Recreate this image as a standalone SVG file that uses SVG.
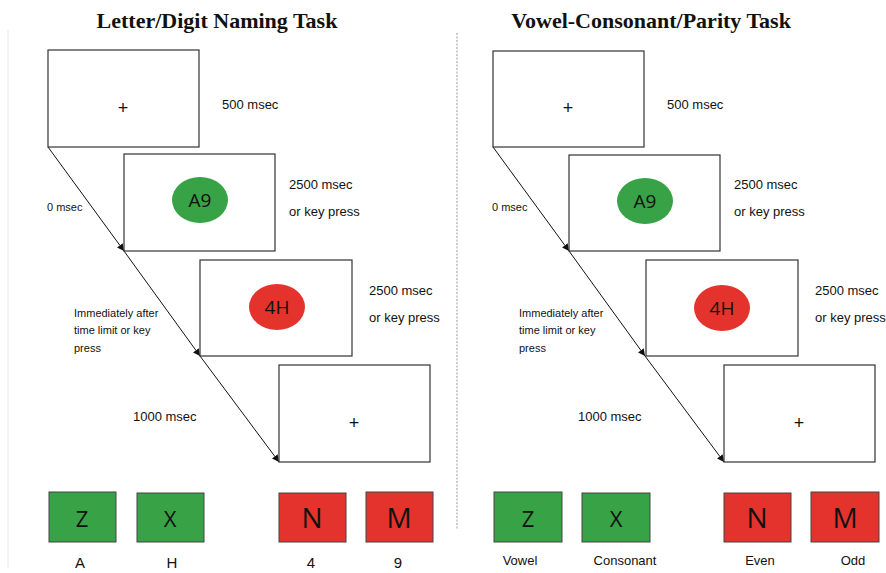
<svg xmlns="http://www.w3.org/2000/svg" width="886" height="573" viewBox="0 0 886 573">
<defs>
<marker id="ah" viewBox="0 0 10 10" refX="10" refY="5" markerWidth="7" markerHeight="7" orient="auto" markerUnits="userSpaceOnUse">
<path d="M0,0 L10,5 L0,10 z" fill="#111"/>
</marker>
<style>
.title{font-family:"Liberation Serif","Times New Roman",serif;font-weight:bold;font-size:22px;fill:#111;text-anchor:middle}
.t{font-family:"Liberation Sans",Arial,sans-serif;font-size:13px;fill:#111}
.s{font-family:"Liberation Sans",Arial,sans-serif;font-size:11px;fill:#111}
.scr{fill:#fff;stroke:#333;stroke-width:1.2}
.plus{font-family:"Liberation Sans",Arial,sans-serif;font-size:18px;fill:#111;text-anchor:middle}
.stim{font-family:"Open Sans","Liberation Sans",sans-serif;font-size:19px;fill:#111;text-anchor:middle}
.key{stroke:#444;stroke-width:1}
.g{fill:#37a246}
.r{fill:#e4332c}
.kl{font-family:"Open Sans","Liberation Sans",sans-serif;font-size:22px;fill:#111;text-anchor:middle}
.kb{font-family:"Open Sans","Liberation Sans",sans-serif;font-size:28px;fill:#111;text-anchor:middle}
.lab{font-family:"Liberation Sans",Arial,sans-serif;font-size:15px;fill:#111;text-anchor:middle}
.lab2{font-family:"Liberation Sans",Arial,sans-serif;font-size:13px;fill:#111;text-anchor:middle}
.conn{stroke:#111;stroke-width:1;fill:none;marker-end:url(#ah)}
</style>
</defs>
<rect width="886" height="573" fill="#fff"/>
<line x1="8" y1="30" x2="8" y2="568" stroke="#e6e6e6" stroke-width="1"/>
<line id="divider" x1="457" y1="33" x2="457" y2="530" stroke="#999" stroke-width="1" stroke-dasharray="2,1.5"/>

<text class="title" x="217" y="28">Letter/Digit Naming Task</text>
<text class="title" x="651" y="28">Vowel-Consonant/Parity Task</text>

<g id="connectors">
<line class="conn" x1="48" y1="147" x2="124" y2="251"/>
<line class="conn" x1="124" y1="251" x2="200" y2="356"/>
<line class="conn" x1="200" y1="356" x2="279" y2="462"/>
<line class="conn" x1="493" y1="147" x2="569" y2="251"/>
<line class="conn" x1="569" y1="251" x2="645" y2="356"/>
<line class="conn" x1="645" y1="356" x2="724" y2="462"/>
</g>

<g id="left-fix1"><rect class="scr" x="48" y="50" width="151" height="97"/><text class="plus" x="123" y="114">+</text></g>
<g id="left-stim1"><rect class="scr" x="124" y="154" width="151" height="97"/><ellipse class="g" cx="200" cy="200" rx="28" ry="23"/><text class="stim" x="200" y="207">A9</text></g>
<g id="left-stim2"><rect class="scr" x="200" y="260" width="152" height="96"/><ellipse class="r" cx="277" cy="307" rx="28" ry="23"/><text class="stim" x="277" y="314">4H</text></g>
<g id="left-fix2"><rect class="scr" x="279" y="365" width="151" height="97"/><text class="plus" x="354" y="429">+</text></g>

<text class="t" x="222" y="109">500 msec</text>
<text class="t" x="289" y="189">2500 msec</text>
<text class="t" x="289" y="216">or key press</text>
<text class="t" x="369" y="295">2500 msec</text>
<text class="t" x="369" y="322">or key press</text>
<text class="t" x="133" y="421">1000 msec</text>
<text class="s" x="47" y="211">0 msec</text>
<text class="s" x="74" y="317">Immediately after</text>
<text class="s" x="74" y="334">time limit or key</text>
<text class="s" x="74" y="352">press</text>

<g id="left-keyZ"><rect class="key g" x="49" y="492" width="67" height="50"/><text class="kl" x="82" y="527">Z</text></g>
<g id="left-keyX"><rect class="key g" x="137" y="493" width="67" height="49"/><text class="kl" x="170" y="527">X</text></g>
<g id="left-keyN"><rect class="key r" x="279" y="493" width="67" height="49"/><text class="kb" x="312" y="528">N</text></g>
<g id="left-keyM"><rect class="key r" x="366" y="492" width="67" height="50"/><text class="kb" x="399" y="528">M</text></g>
<text class="lab" x="80" y="568">A</text>
<text class="lab" x="172" y="568">H</text>
<text class="lab" x="311" y="568">4</text>
<text class="lab" x="398" y="568">9</text>

<g id="right-fix1"><rect class="scr" x="493" y="51" width="151" height="96"/><text class="plus" x="568" y="114">+</text></g>
<g id="right-stim1"><rect class="scr" x="569" y="155" width="151" height="96"/><ellipse class="g" cx="645" cy="201" rx="28" ry="23"/><text class="stim" x="645" y="208">A9</text></g>
<g id="right-stim2"><rect class="scr" x="646" y="260" width="152" height="96"/><ellipse class="r" cx="722" cy="308" rx="28" ry="23"/><text class="stim" x="722" y="315">4H</text></g>
<g id="right-fix2"><rect class="scr" x="724" y="365" width="151" height="97"/><text class="plus" x="799" y="429">+</text></g>

<text class="t" x="667" y="109">500 msec</text>
<text class="t" x="734" y="189">2500 msec</text>
<text class="t" x="734" y="216">or key press</text>
<text class="t" x="815" y="295">2500 msec</text>
<text class="t" x="815" y="322">or key press</text>
<text class="t" x="578" y="421">1000 msec</text>
<text class="s" x="492" y="211">0 msec</text>
<text class="s" x="519" y="317">Immediately after</text>
<text class="s" x="519" y="334">time limit or key</text>
<text class="s" x="519" y="352">press</text>

<g id="right-keyZ"><rect class="key g" x="494" y="492" width="68" height="50"/><text class="kl" x="528" y="527">Z</text></g>
<g id="right-keyX"><rect class="key g" x="582" y="493" width="68" height="49"/><text class="kl" x="616" y="527">X</text></g>
<g id="right-keyN"><rect class="key r" x="724" y="493" width="67" height="49"/><text class="kb" x="757" y="528">N</text></g>
<g id="right-keyM"><rect class="key r" x="811" y="492" width="68" height="50"/><text class="kb" x="845" y="528">M</text></g>
<text class="lab2" x="520" y="565">Vowel</text>
<text class="lab2" x="625" y="565">Consonant</text>
<text class="lab2" x="760" y="565">Even</text>
<text class="lab2" x="853" y="565">Odd</text>
</svg>
